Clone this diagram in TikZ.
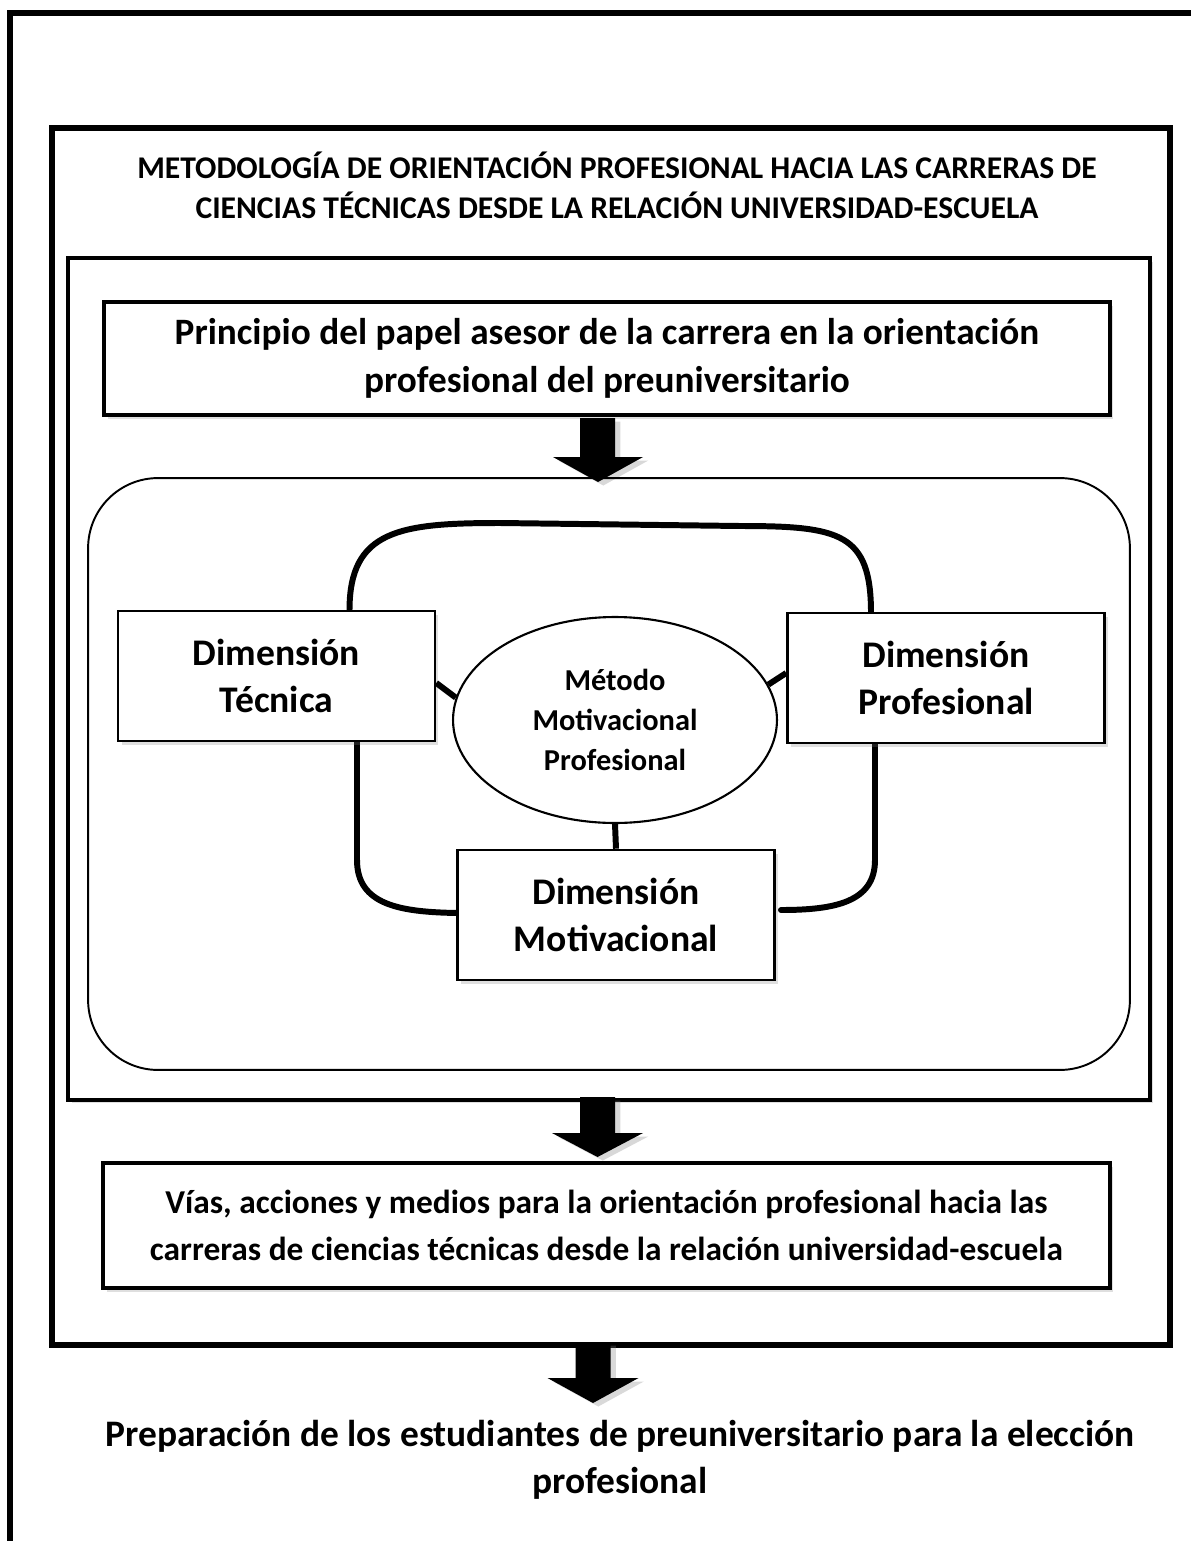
\documentclass[tikz,border=0pt]{standalone}
\usepackage{fontspec}
\setmainfont{Carlito}
\usetikzlibrary{positioning,calc,shapes.geometric,shadows}

\tikzset{
  caja/.style={draw, fill=white, line width=2.2pt, align=center, inner sep=0pt,
    font=\bfseries\fontsize{21.2}{27}\selectfont,
    drop shadow={shadow xshift=2pt, shadow yshift=-2pt, opacity=0.25}},
  dimension/.style={caja, line width=1.5pt, minimum width=6.34cm, minimum height=2.6cm,
    font=\bfseries\fontsize{21.4}{26.6}\selectfont},
  enlace/.style={line width=3.4pt, line cap=round},
  flecha/.style={fill=black, drop shadow={shadow xshift=3pt, shadow yshift=-2pt, opacity=0.3}}
}

\begin{document}
\begin{tikzpicture}[x=0.02cm, y=-0.02cm]
    \useasboundingbox (0,0) rectangle (1191,1541);

    % cadre exterieur
    \draw[line width=3.4pt] (10,1541) -- (10,13) -- (1191,13);

    % metodologia
    \node[draw, line width=3.6pt, minimum width=22.36cm, minimum height=24.34cm,
          drop shadow={shadow xshift=2pt, shadow yshift=-2pt, opacity=0.25}, fill=white]
          (metodologia) at (611,736.5) {};
    \node[font=\bfseries\fontsize{18}{22.7}\selectfont, align=center] (titulo) at (617,185)
        {METODOLOGÍA DE ORIENTACIÓN PROFESIONAL HACIA LAS CARRERAS DE\\
         CIENCIAS TÉCNICAS DESDE LA RELACIÓN UNIVERSIDAD-ESCUELA};

    \node[draw, line width=1.9pt, minimum width=21.64cm, minimum height=16.84cm,
          drop shadow={shadow xshift=2pt, shadow yshift=-2pt, opacity=0.25}, fill=white]
          (interior) at (609,679) {};

    \node[caja, minimum width=20.12cm, minimum height=2.26cm] (principio) at (607,358.5)
        {Principio del papel asesor de la carrera en la orientación\\
         profesional del preuniversitario};

    % fleche 1
    \fill[flecha] (597,418) -- ++(18,0) -- ++(0,39) -- ++(28,0) -- ++(-45,25)
        -- ++(-45,-25) -- ++(27,0) -- ++(0,-39) -- cycle;

    \node[draw, line width=1.1pt, rounded corners=1.4cm, minimum width=20.84cm,
          minimum height=11.84cm] (sistema) at (609,774) {};

    % liens entre les dimensions
    \draw[enlace] ($(276.5,610)+(73,0)$)
        .. controls +(0,-80) and +(-100,0) .. (500,523)
        -- (740,526)
        .. controls +(100,0) and +(0,-80) .. (871,613);
    \draw[enlace] (357,741) -- (357,860)
        .. controls (357,905) and (400,912) .. (457,913);
    \draw[enlace] (875,742) -- (875,860)
        .. controls (875,902) and (835,910) .. (781,910);

    % dimensions
    \node[dimension] (tecnica) at (276.5,676) {Dimensión\\Técnica};
    \node[dimension] (profesional) at (946,678) {Dimensión\\Profesional};
    \node[dimension] (motivacional) at (616,915) {Dimensión\\Motivacional};
    \node[draw, fill=white, ellipse, line width=1.2pt, minimum width=6.48cm, minimum height=4.12cm,
          inner sep=0pt, align=center, font=\bfseries\fontsize{17.3}{22.7}\selectfont]
          (metodo) at (615,720) {Método\\Motivacional\\Profesional};

    \draw[enlace, line cap=butt] (tecnica.east |- 0,683) -- (metodo.172);
    \draw[enlace, line cap=butt] (metodo.13) -- (profesional.west |- 0,673);
    \draw[enlace, line cap=butt] (metodo.south) -- (motivacional.north);

    % fleche 2
    \fill[flecha] (597.5,1097) -- ++(17.5,0) -- ++(0,36) -- ++(28,0) -- ++(-45.5,24)
        -- ++(-45.5,-24) -- ++(28,0) -- ++(0,-36) -- cycle;

    \node[caja, line width=2.3pt, minimum width=20.14cm, minimum height=2.5cm,
          font=\bfseries\fontsize{19}{26.6}\selectfont] (vias) at (606.5,1225.5)
        {Vías, acciones y medios para la orientación profesional hacia las\\
         carreras de ciencias técnicas desde la relación universidad-escuela};

    % fleche 3
    \fill[flecha] (593,1342) -- ++(17.5,0) -- ++(0,36) -- ++(28,0) -- ++(-45.5,25)
        -- ++(-45.5,-25) -- ++(28,0) -- ++(0,-36) -- cycle;

    \node[font=\bfseries\fontsize{21.3}{27}\selectfont, align=center] (preparacion) at (620,1460)
        {Preparación de los estudiantes de preuniversitario para la elección\\
         profesional};
\end{tikzpicture}
\end{document}
